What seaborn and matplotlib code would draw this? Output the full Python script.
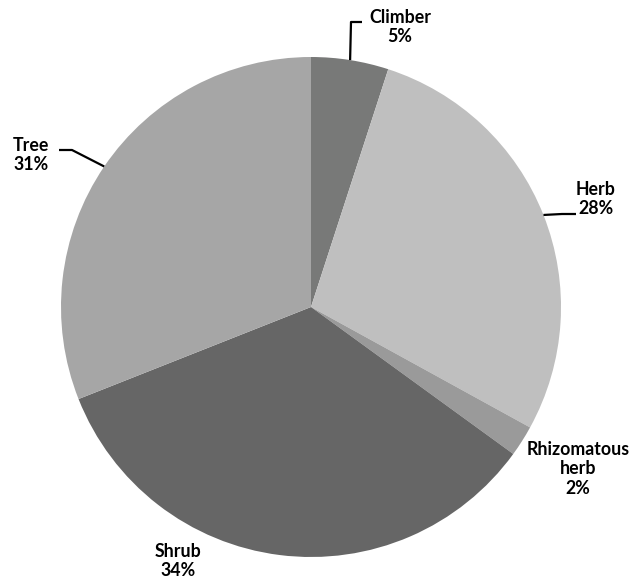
import matplotlib
matplotlib.use("Agg")
import matplotlib.pyplot as plt
import seaborn as sns
import numpy as np

# Growth-form shares (percent), clockwise from 12 o'clock
categories = ["Climber", "Herb", "Rhizomatous\nherb", "Shrub", "Tree"]
shares = [5, 28, 2, 34, 31]
colors = ["#787978", "#bfbfbf", "#9a9a9a", "#666666", "#a6a6a6"]

sns.set_theme(style="white")
plt.rcParams["font.family"] = ["Lato", "DejaVu Sans"]

W, H = 640, 579
fig = plt.figure(figsize=(W / 100, H / 100), dpi=100)
ax = fig.add_axes([0, 0, 1, 1])

# Pie geometry expressed in pixel units so the axes maps 1:1 to the image
cx, cy, R = 311, 307, 250
wedges, _ = ax.pie(shares, colors=colors, startangle=90, counterclock=False,
                   center=(cx, H - cy), radius=R,
                   wedgeprops=dict(linewidth=0))

ax.set_xlim(0, W)
ax.set_ylim(0, H)
ax.set_aspect("equal")
ax.axis("off")

def mid_point(w, r=R):
    ang = np.deg2rad((w.theta1 + w.theta2) / 2)
    return cx + r * np.cos(ang), (H - cy) + r * np.sin(ang)

txt = dict(ha="center", va="center", fontsize=12.8, fontweight="bold",
           color="black", linespacing=1.18)

# label text positions and leader-line elbows (pixel space, y from top)
layout = {
    0: dict(text=(400, 27), elbow=[(351, 22), (362, 22)]),
    1: dict(text=(596, 199), elbow=[(562, 214), (576, 214)]),
    2: dict(text=(578, 469), elbow=None),
    3: dict(text=(178, 561), elbow=None),
    4: dict(text=(31, 155), elbow=[(72, 150), (59, 150)]),
}

for i, (w, name, v) in enumerate(zip(wedges, categories, shares)):
    spec = layout[i]
    tx, ty = spec["text"]
    ax.text(tx, H - ty, f"{name}\n{v}%", **txt)
    if spec["elbow"]:
        x0, y0 = mid_point(w)
        pts = [(x0, y0)] + [(px, H - py) for px, py in spec["elbow"]]
        xs, ys = zip(*pts)
        ax.plot(xs, ys, color="black", linewidth=1.6, solid_capstyle="butt")

fig.savefig("out.png", dpi=100, facecolor="white")
